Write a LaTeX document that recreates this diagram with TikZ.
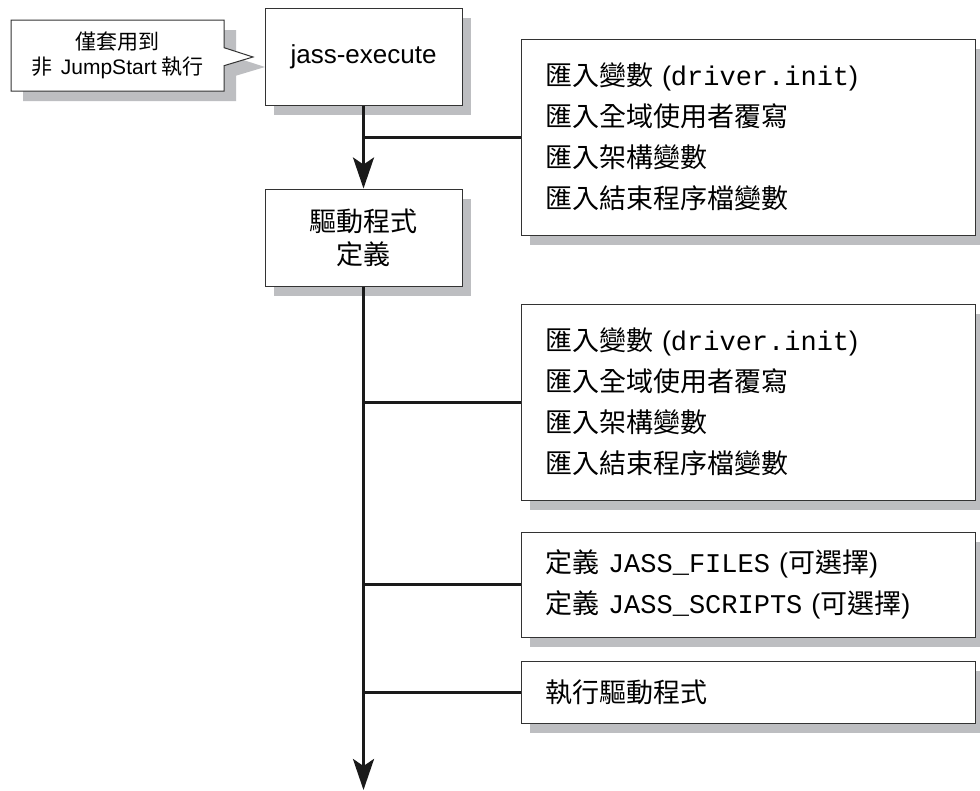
\documentclass[tikz,border=0pt]{standalone}
\usepackage{fontspec}
\setmainfont{Noto Sans CJK TC}
\setsansfont{Liberation Sans}
\setmonofont{Liberation Mono}
\usetikzlibrary{shadows,shapes.callouts,arrows.meta}
\definecolor{shadowc}{HTML}{BDBEC1}
\definecolor{boxc}{HTML}{333333}
\definecolor{linec}{HTML}{1A1A1A}
\begin{document}
\begin{tikzpicture}[x=1pt,y=-1pt,
  shadowed/.style={drop shadow={shadow xshift=9pt,shadow yshift=-10pt,fill=shadowc,opacity=1}},
  box/.style={draw=boxc,line width=1pt,fill=white,shadowed,inner sep=0pt},
  listbox/.style={box,inner xsep=24pt,text width=406pt,align=left,minimum height=#1,font=\fontsize{27}{41}\selectfont},
  trunk/.style={draw=linec,line width=3pt,-{Stealth[length=31pt,width=21pt,inset=7pt]}},
  branch/.style={draw=linec,line width=3pt}]
\useasboundingbox (0,0) rectangle (980,790);
\fill[white] (0,0) rectangle (980,790);
\coordinate (ptr) at (253,57);
\coordinate (end) at (363.5,790);
\node[rectangle callout,draw=boxc,line width=1pt,fill=white,
  drop shadow={shadow xshift=12pt,shadow yshift=-10pt,fill=shadowc,opacity=1},
  callout absolute pointer=(ptr),callout pointer width=18pt,
  minimum width=213pt,minimum height=71pt,inner sep=0pt,align=center,
  font=\fontsize{21}{25}\selectfont] (note) at (117.5,55.5)
  {僅套用到\\非 \,{\sffamily JumpStart} 執行};
\node[box,minimum width=197pt,minimum height=97pt,font=\sffamily\fontsize{26}{30}\selectfont]
  (jass) at (363.5,56.5) {jass-execute};
\node[box,minimum width=197pt,minimum height=97pt,align=center,font=\fontsize{27}{33}\selectfont]
  (drv) at (363.5,237.5) {驅動程式\\定義};
\node[listbox=196pt] (l1) at (748,137)
  {匯入變數 {\sffamily(}{\ttfamily driver.init}{\sffamily)}\\匯入全域使用者覆寫\\匯入架構變數\\匯入結束程序檔變數};
\node[listbox=196pt] (l2) at (748,402)
  {匯入變數 {\sffamily(}{\ttfamily driver.init}{\sffamily)}\\匯入全域使用者覆寫\\匯入架構變數\\匯入結束程序檔變數};
\node[listbox=105pt] (l3) at (748,584.5)
  {定義 {\ttfamily JASS\_FILES} {\sffamily(}可選擇{\sffamily)}\\定義 {\ttfamily JASS\_SCRIPTS} {\sffamily(}可選擇{\sffamily)}};
\node[listbox=62pt] (l4) at (748,692) {執行驅動程式};
\draw[trunk] (jass.south) -- (drv.north);
\draw[trunk] (drv.south) -- (end);
\draw[branch] (jass.south |- l1.west) -- (l1.west);
\draw[branch] (drv.south |- l2.west) -- (l2.west);
\draw[branch] (drv.south |- l3.west) -- (l3.west);
\draw[branch] (drv.south |- l4.west) -- (l4.west);
\end{tikzpicture}
\end{document}
